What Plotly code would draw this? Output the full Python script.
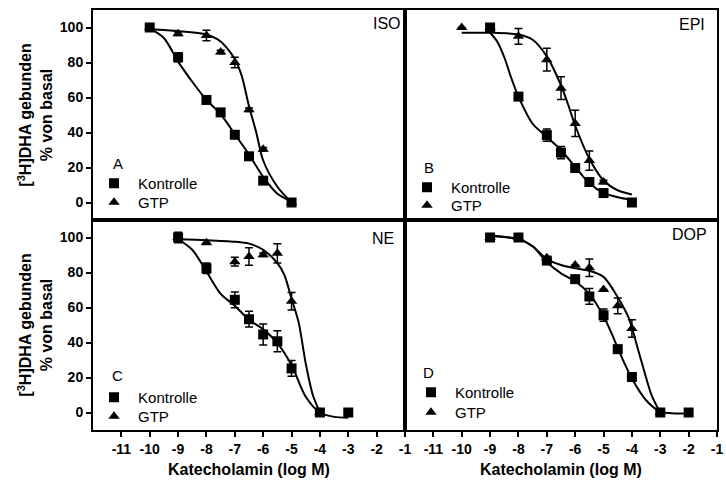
import plotly.graph_objects as go

# ---------------- data ----------------
X_TICKS = [-11, -10, -9, -8, -7, -6, -5, -4, -3, -2, -1]
X_TICK_LABELS = ["-11", "-10", "-9", "-8", "-7", "-6", "-5", "-4", "-3", "-2", "-1"]
Y_TICKS = [0, 20, 40, 60, 80, 100]
Y_TICK_LABELS = ["0", "20", "40", "60", "80", "100"]

PANEL_NAMES = ["ISO", "EPI", "NE", "DOP"]
PANEL_LETTERS = ["A", "B", "C", "D"]
SERIES_NAMES = ["Kontrolle", "GTP"]
Y_TITLE = "[<sup>3</sup>H]DHA gebunden<br>% von basal"
X_TITLE = "Katecholamin (log M)"

# Panel A (ISO)
A_K_x = [-10, -9, -8, -7.5, -7, -6.5, -6, -5]
A_K_y = [100, 83, 58.6, 51.5, 38.7, 26.4, 12.5, 0]
A_K_err = [1, 2.5, 1.5, 2, 1.5, 2, 1.5, 1]
A_G_x = [-10, -9, -8, -7.5, -7, -6.5, -6, -5]
A_G_y = [100, 96.4, 95.4, 86, 80, 53, 30.5, 0]
A_G_err = [0, 1, 3, 1, 3, 1, 1, 0]
A_Kfit_x = [-10, -9.5, -9, -8.5, -8, -7.5, -7, -6.5, -6, -5.5, -5]
A_Kfit_y = [99.5, 94, 80.5, 69, 58.6, 50.5, 39, 27.5, 14.6, 5, 0.5]
A_Gfit_x = [-10, -9, -8, -7.5, -7, -6.75, -6.5, -6.25, -6, -5.5, -5]
A_Gfit_y = [99, 98, 96, 92, 82, 72, 55, 40.5, 24, 9, 0]

# Panel B (EPI)
B_K_x = [-9, -8, -7, -6.5, -6, -5.5, -5, -4]
B_K_y = [100, 60.5, 38.5, 28.5, 19.7, 11.7, 5.4, 0]
B_K_err = [1, 2, 3.5, 3.5, 1.5, 1.5, 1, 0]
B_G_x = [-10, -9, -8, -7, -6.5, -6, -5.5, -5]
B_G_y = [100, 100, 95, 81.6, 65.3, 45.2, 24, 11.7]
B_G_err = [0, 0, 4.5, 6.5, 6.5, 7.5, 5.5, 1]
B_Kfit_x = [-9, -8.75, -8.5, -8.25, -8, -7.5, -7, -6.5, -6, -5.5, -5, -4.5, -4]
B_Kfit_y = [97, 92, 83, 71, 60.5, 45, 37.5, 30, 20.3, 11, 5.5, 3, 1.5]
B_Gfit_x = [-10, -9, -8, -7.5, -7, -6.5, -6.25, -6, -5.5, -5, -4.5, -4]
B_Gfit_y = [97, 97, 96, 93, 83.5, 67, 56, 44, 25, 12.6, 7, 4.6]

# Panel C (NE)
C_K_x = [-9, -8, -7, -6.5, -6, -5.5, -5, -4, -3]
C_K_y = [100, 82.4, 64.4, 53.3, 44.6, 40.7, 25.2, 0, 0]
C_K_err = [3, 3, 4.5, 4.5, 6, 6, 4.5, 0, 0]
C_G_x = [-9, -8, -7, -6.5, -6, -5.5, -5, -4]
C_G_y = [100, 97, 86.2, 89.1, 90.1, 91, 63.6, 0]
C_G_err = [0, 0, 2.5, 5, 1, 5.5, 5, 0]
C_Kfit_x = [-9, -8.5, -8, -7.5, -7, -6.5, -6, -5.5, -5, -4.5, -4, -3.5, -3]
C_Kfit_y = [99, 93, 80.6, 67.8, 61, 53, 47.5, 39.7, 27.1, 9, 0, -2.5, -3]
C_Gfit_x = [-9, -8, -7, -6.5, -6, -5.5, -5.25, -5, -4.75, -4.5, -4.25, -4]
C_Gfit_y = [99, 98.5, 97.6, 96.5, 93, 85.3, 78.5, 65, 51.5, 28, 10, 0]

# Panel D (DOP)
D_K_x = [-9, -8, -7, -6, -5.5, -5, -4.5, -4, -3, -2]
D_K_y = [100, 100, 86.8, 76.2, 66.3, 55.6, 36.2, 20.3, 0, 0]
D_K_err = [0, 2, 1.5, 2, 4.5, 3.5, 1, 1, 0, 0]
D_G_x = [-9, -8, -7, -6, -5.5, -5, -4.5, -4, -3]
D_G_y = [100, 100, 88.5, 84.3, 82.7, 70.3, 61, 48, 0]
D_G_err = [0, 0, 0, 0, 5, 0, 4.5, 5, 0]
D_Kfit_x = [-9, -8, -7.5, -7, -6.5, -6, -5.5, -5, -4.7, -4.5, -4, -3.5, -3, -2.5, -2]
D_Kfit_y = [101, 99.2, 95, 86, 79.5, 75, 67.8, 55, 44.6, 36.8, 19.4, 7, 0.5, -0.5, -0.5]
D_Gfit_x = [-9, -8, -7.5, -7, -6.5, -6, -5.5, -5, -4.5, -4.12, -4, -3.66, -3.3, -3]
D_Gfit_y = [101, 99, 95, 87.5, 84.3, 82.4, 81, 77.5, 65.9, 54.3, 48.4, 29, 9.7, 0]

# ---------------- layout helpers ----------------
FIG_W, FIG_H = 726, 483
M_L, M_R, M_T, M_B = 93, 3, 10, 53
PW = FIG_W - M_L - M_R
PH = FIG_H - M_T - M_B


def px2x(px):
    return (px - M_L) / PW


def py2y(py):
    return (FIG_H - M_B - py) / PH


FONT = "Liberation Sans, Arial, sans-serif"
BLACK = "black"

panels = [
    dict(xa="x", ya="y", legs=("legend", "legend2"),
         K=(A_K_x, A_K_y, A_K_err), G=(A_G_x, A_G_y, A_G_err),
         Kfit=(A_Kfit_x, A_Kfit_y), Gfit=(A_Gfit_x, A_Gfit_y)),
    dict(xa="x2", ya="y2", legs=("legend3", "legend4"),
         K=(B_K_x, B_K_y, B_K_err), G=(B_G_x, B_G_y, B_G_err),
         Kfit=(B_Kfit_x, B_Kfit_y), Gfit=(B_Gfit_x, B_Gfit_y)),
    dict(xa="x3", ya="y3", legs=("legend5", "legend6"),
         K=(C_K_x, C_K_y, C_K_err), G=(C_G_x, C_G_y, C_G_err),
         Kfit=(C_Kfit_x, C_Kfit_y), Gfit=(C_Gfit_x, C_Gfit_y)),
    dict(xa="x4", ya="y4", legs=("legend7", "legend8"),
         K=(D_K_x, D_K_y, D_K_err), G=(D_G_x, D_G_y, D_G_err),
         Kfit=(D_Kfit_x, D_Kfit_y), Gfit=(D_Gfit_x, D_Gfit_y)),
]

fig = go.Figure()
for p in panels:
    for fx, fy in (p["Kfit"], p["Gfit"]):
        fig.add_trace(go.Scatter(
            x=fx, y=fy, mode="lines", xaxis=p["xa"], yaxis=p["ya"],
            line=dict(color=BLACK, width=2, shape="spline", smoothing=0.8),
            showlegend=False, hoverinfo="skip"))
    for (sx, sy, se), name, sym, leg in ((p["K"], SERIES_NAMES[0], "square", p["legs"][0]),
                                         (p["G"], SERIES_NAMES[1], "triangle-up", p["legs"][1])):
        fig.add_trace(go.Scatter(
            x=sx, y=sy, mode="markers", name=name, xaxis=p["xa"], yaxis=p["ya"],
            legend=leg,
            marker=dict(symbol=sym, size=10, color=BLACK),
            error_y=dict(type="data", array=se, visible=True, color=BLACK,
                         thickness=1.5, width=4)))

axis_common = dict(showline=True, mirror=True, linewidth=2, linecolor=BLACK,
                   showgrid=False, zeroline=False)
xt = dict(ticks="outside", ticklen=5, tickwidth=1.5, tickcolor=BLACK,
          tickvals=X_TICKS, ticktext=X_TICK_LABELS,
          tickfont=dict(family=FONT, size=14, color=BLACK, weight="bold"))
yt = dict(ticks="outside", ticklen=5, tickwidth=1.5, tickcolor=BLACK,
          tickvals=Y_TICKS, ticktext=Y_TICK_LABELS,
          tickfont=dict(family=FONT, size=14, color=BLACK, weight="bold"),
          title=dict(text=Y_TITLE, standoff=3,
                     font=dict(family=FONT, size=16, color=BLACK, weight="bold")),
          automargin=False)
noticks = dict(ticks="", showticklabels=False)
XR = [-12, -1]
YR = [-10, 110]

legend_common = dict(font=dict(family=FONT, size=15, color=BLACK),
                     bgcolor="rgba(0,0,0,0)", borderwidth=0, itemwidth=38,
                     xanchor="left", yanchor="top", itemclick=False)

# legend item centres (symbol x, item y) per panel, Kontrolle then GTP
LEG_POS = [(115, 183), (115, 202), (431, 187), (431, 205),
           (115, 397), (115, 416), (435, 392), (435, 412)]
legends = {}
for i, (sx, sy) in enumerate(LEG_POS):
    key = "legend" if i == 0 else "legend%d" % (i + 1)
    legends[key] = dict(x=px2x(sx - 25), y=py2y(sy - 16), **legend_common)

fig.update_layout(
    width=FIG_W, height=FIG_H,
    margin=dict(l=M_L, r=M_R, t=M_T, b=M_B),
    paper_bgcolor="white", plot_bgcolor="white",
    font=dict(family=FONT, color=BLACK),
    xaxis=dict(domain=[0, 0.5], anchor="y", range=XR, **axis_common, **noticks),
    xaxis2=dict(domain=[0.5, 1], anchor="y2", range=XR, **axis_common, **noticks),
    xaxis3=dict(domain=[0, 0.5], anchor="y3", range=XR, **axis_common, **xt),
    xaxis4=dict(domain=[0.5, 1], anchor="y4", range=XR, **axis_common, **xt),
    yaxis=dict(domain=[0.5, 1], anchor="x", range=YR, **axis_common, **yt),
    yaxis2=dict(domain=[0.5, 1], anchor="x2", range=YR, **axis_common, **noticks),
    yaxis3=dict(domain=[0, 0.5], anchor="x3", range=YR, **axis_common, **yt),
    yaxis4=dict(domain=[0, 0.5], anchor="x4", range=YR, **axis_common, **noticks),
    showlegend=True,
    **legends,
)

annotations = []
# panel names (top-right)
for name, (cx, cy) in zip(PANEL_NAMES, [(390, 24), (698, 25), (386, 238), (695, 234)]):
    annotations.append(dict(text=name, x=px2x(cx), y=py2y(cy), xref="paper", yref="paper",
                            xanchor="center", yanchor="middle", showarrow=False,
                            font=dict(family=FONT, size=16, color=BLACK)))
# panel letters
for letter, (cx, cy) in zip(PANEL_LETTERS, [(118, 163), (432, 167), (118, 375), (432, 372)]):
    annotations.append(dict(text=letter, x=px2x(cx), y=py2y(cy), xref="paper", yref="paper",
                            xanchor="center", yanchor="middle", showarrow=False,
                            font=dict(family=FONT, size=15, color=BLACK)))
# x titles
for cx in (250, 565):
    annotations.append(dict(text=X_TITLE, x=px2x(cx), y=py2y(469),
                            xref="paper", yref="paper",
                            xanchor="center", yanchor="middle", showarrow=False,
                            font=dict(family=FONT, size=16, color=BLACK, weight="bold")))
fig.update_layout(annotations=annotations)

fig.write_html("out.html", config={"displayModeBar": False},
               post_script="document.body.style.margin='0px';")
